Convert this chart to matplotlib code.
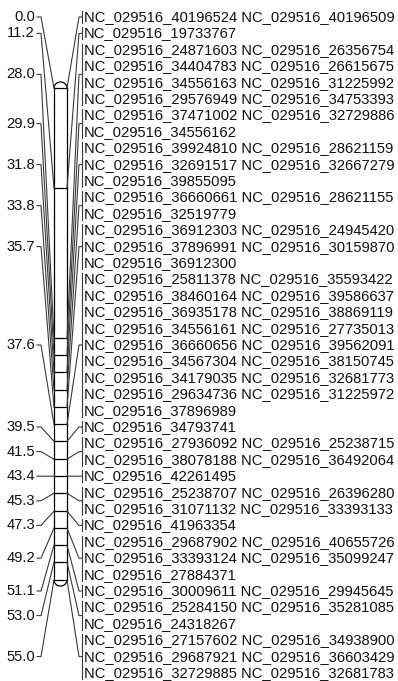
import matplotlib
matplotlib.use('Agg')
import matplotlib.pyplot as plt
from matplotlib.patches import Arc

# --- Data: locus positions (cM) and markers at each locus ---
POSITIONS = [0.0, 11.2, 28.0, 29.9, 31.8, 33.8, 35.7, 37.6, 39.5,
             41.5, 43.4, 45.3, 47.3, 49.2, 51.1, 53.0, 55.0]

MARKERS = [
    ['40196524', '40196509'],
    ['19733767'],
    ['24871603', '26356754', '34404783', '26615675', '34556163', '31225992',
     '29576949', '34753393'],
    ['37471002', '32729886', '34556162'],
    ['39924810', '28621159', '32691517', '32667279', '39855095'],
    ['36660661', '28621155', '32519779'],
    ['36912303', '24945420', '37896991', '30159870', '36912300'],
    ['25811378', '35593422', '38460164', '39586637', '36935178', '38869119',
     '34556161', '27735013', '36660656', '39562091', '34567304', '38150745',
     '34179035', '32681773', '29634736', '31225972', '37896989'],
    ['34793741'],
    ['27936092', '25238715', '38078188', '36492064'],
    ['42261495'],
    ['25238707', '26396280', '31071132', '33393133'],
    ['41963354'],
    ['29687902', '40655726', '33393124', '35099247', '27884371'],
    ['30009611', '29945645'],
    ['25284150', '35281085', '24318267'],
    ['27157602', '34938900', '29687921', '36603429', '32729885', '32681783'],
]
PREFIX = 'NC_029516_'

# --- Layout (pixel units) ---
W, H = 398, 681
BAR_L, BAR_R = 54, 67
BAR_TOP, BAR_BOT = 88, 580
ROW_TOP, ROW_STEP = 17, 16.4
FONT = 10.6


def cm_to_y(cm):
    return BAR_TOP + cm / POSITIONS[-1] * (BAR_BOT - BAR_TOP)


plt.rcParams['font.family'] = ['Liberation Sans', 'DejaVu Sans']
fig = plt.figure(figsize=(W / 100, H / 100), dpi=100)
ax = fig.add_axes([0, 0, 1, 1])
ax.set_xlim(0, W)
ax.set_ylim(H, 0)
ax.axis('off')

lc = dict(color='#3a3a3a', lw=0.8)

# chromosome bar
ax.plot([BAR_L, BAR_L], [BAR_TOP, BAR_BOT], color='black', lw=0.9)
ax.plot([BAR_R, BAR_R], [BAR_TOP, BAR_BOT], color='black', lw=0.9)
cx = (BAR_L + BAR_R) / 2
ax.add_patch(Arc((cx, BAR_TOP), BAR_R - BAR_L, 12, theta1=180, theta2=360,
                 color='black', lw=0.9))
ax.add_patch(Arc((cx, BAR_BOT), BAR_R - BAR_L, 12, theta1=0, theta2=180,
                 color='black', lw=0.9))

row = 0
for pos, marks in zip(POSITIONS, MARKERS):
    lines = [marks[i:i + 2] for i in range(0, len(marks), 2)]
    rows_y = [ROW_TOP + (row + k) * ROW_STEP for k in range(len(lines))]
    row += len(lines)
    ly = (rows_y[0] + rows_y[-1]) / 2
    y = cm_to_y(pos)

    # tick across bar
    ax.plot([BAR_L, BAR_R], [y, y], color='black', lw=0.9)

    # left label + connector
    ax.text(35, ly, f'{pos:.1f}', ha='right', va='center', fontsize=FONT,
            color='#111111')
    ax.plot([37, 41, BAR_L], [ly, ly, y], **lc)

    # right connector + bracket
    ax.plot([BAR_R, 79, 81.5], [y, ly, ly], **lc)
    ax.plot([81.5, 81.5], [rows_y[0] - 6, rows_y[-1] + 6], **lc)

    for ry, pair in zip(rows_y, lines):
        ax.text(84, ry, ' '.join(PREFIX + m for m in pair), ha='left',
                va='center', fontsize=FONT, color='#111111')

fig.savefig('out.png', dpi=100)
